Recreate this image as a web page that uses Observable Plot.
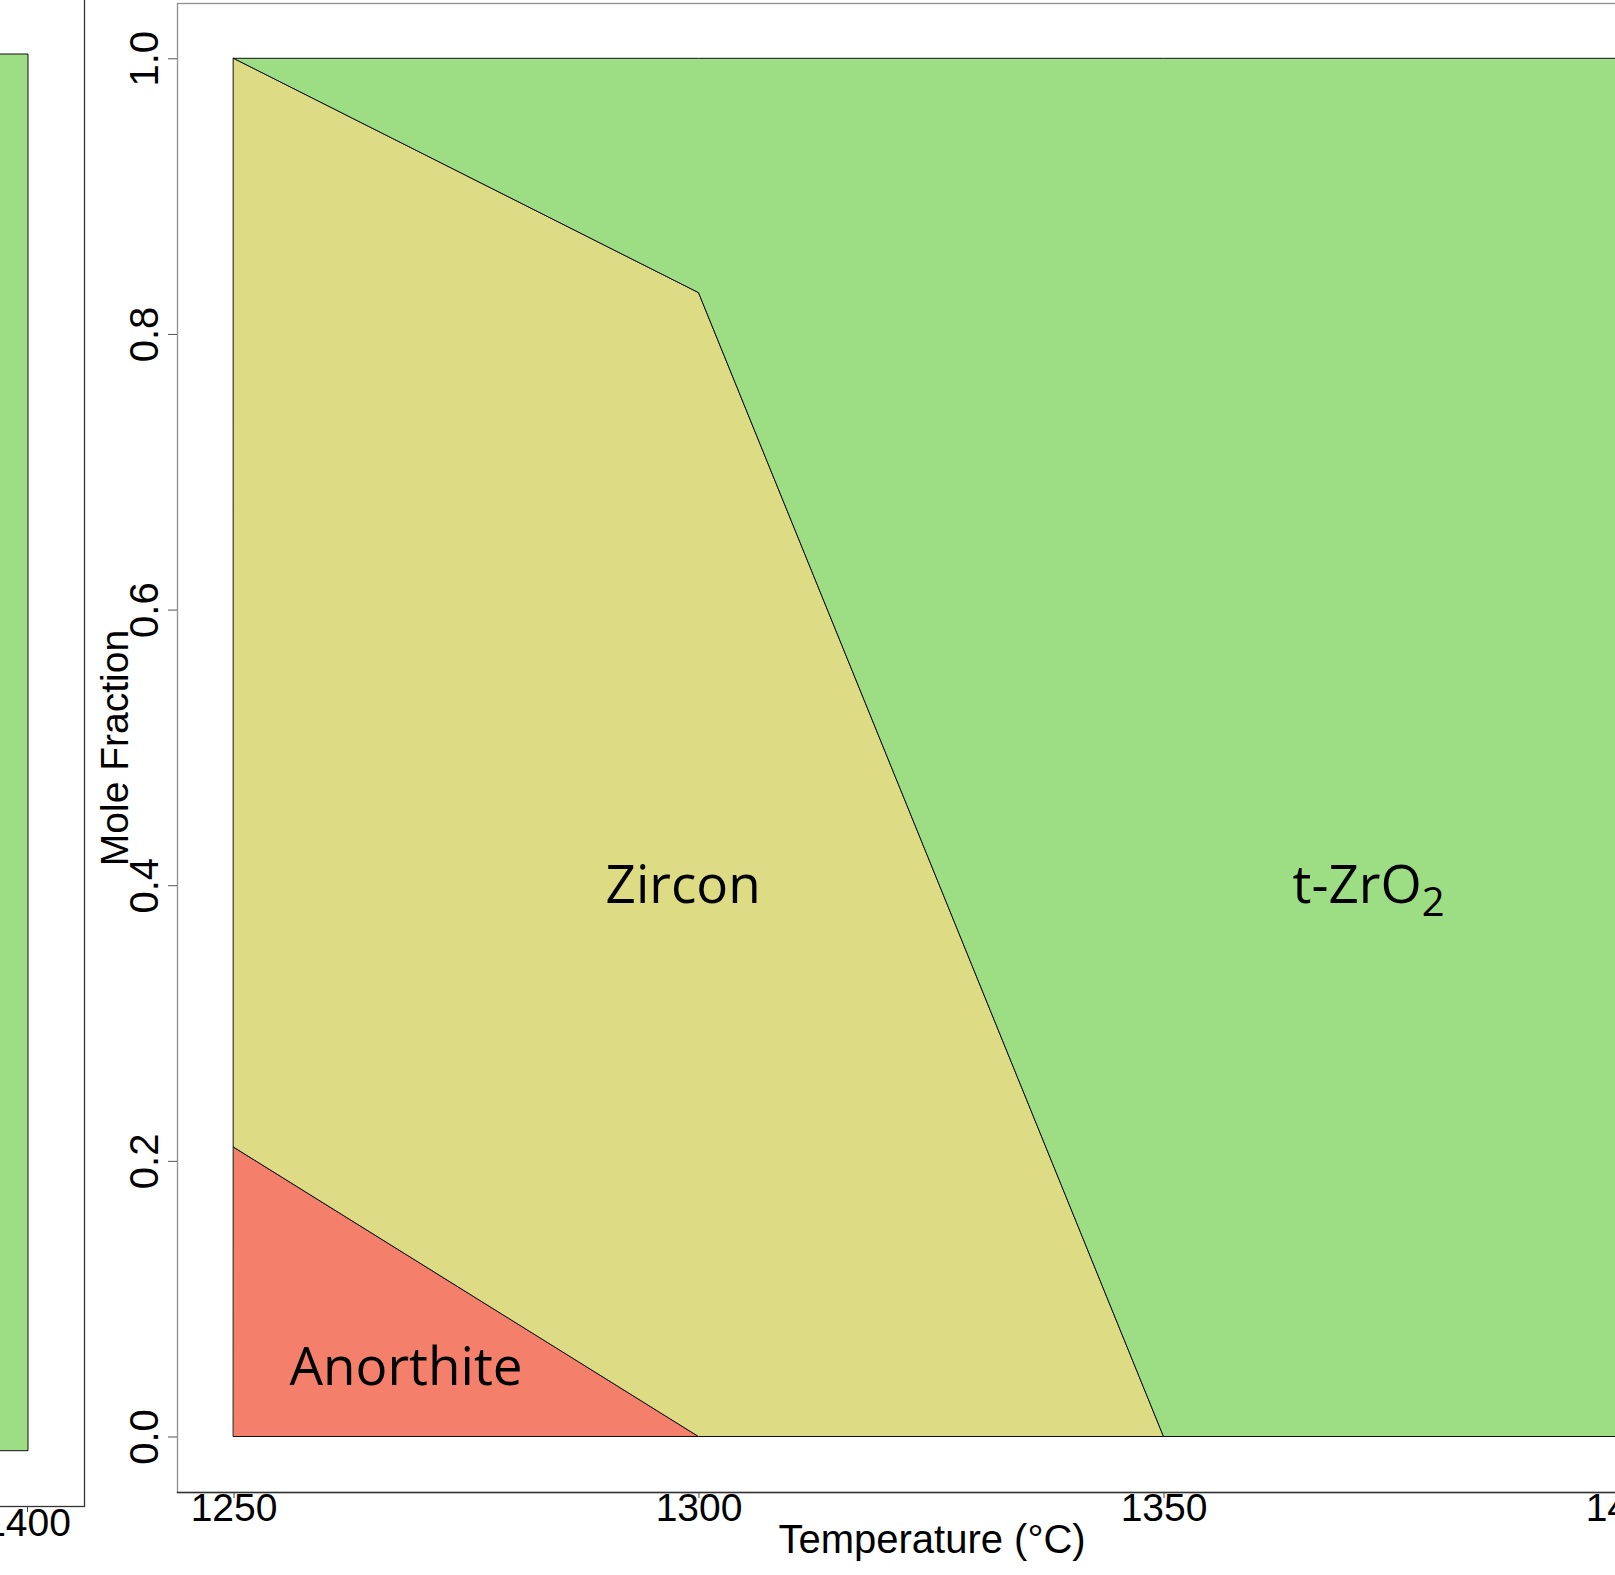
<!DOCTYPE html>
<html><head><meta charset="utf-8">
<script src="https://cdn.jsdelivr.net/npm/d3@7"></script>
<script src="https://cdn.jsdelivr.net/npm/@observablehq/plot@0.6"></script>
<style>
html,body{margin:0;padding:0;background:#fff;overflow:hidden;}
#wrap{position:relative;width:1615px;height:1575px;}
#wrap svg{position:absolute;left:0;top:0;}
</style></head><body><div id="wrap"></div>
<script>
// ---- data ----
const temperatures = [1250, 1300, 1350, 1400];
const phases = ["Anorthite", "Zircon", "t-ZrO2"];
const anorthite = [0.21, 0, 0, 0];
const zircon = [0.79, 0.83, 0, 0];
const tZrO2 = [0, 0.17, 1, 1];
const phaseColors = ["#F47F6A", "#DDDC85", "#9DDE85"];
const xTicks = [1250, 1300, 1350, 1400];
const yTicks = [0, 0.2, 0.4, 0.6, 0.8, 1.0];
const labelText = ["Anorthite", "Zircon", "t-ZrO2"];
const labelX = [1268.5, 1298.3, 1372];
const labelY = [0.05, 0.4, 0.4];
const xTitle = "Temperature (°C)";
const yTitle = "Mole Fraction";
// neighbouring panel, cropped at the left edge
const leftTemperatures = [1350, 1400];
const leftTZrO2 = [1, 1];
const leftTicks = [1400];

const series = [anorthite, zircon, tZrO2];
const rows = phases.flatMap((p, i) => temperatures.map((t, j) => ({phase: p, T: t, value: series[i][j]})));
const leftRows = leftTemperatures.map((t, j) => ({T: t, value: leftTZrO2[j]}));

const axisFont = "'Liberation Sans', Arial, sans-serif";

const main = Plot.plot({
  width: 1615, height: 1575,
  marginTop: 3, marginLeft: 177, marginRight: -71, marginBottom: 83,
  style: `font-family: ${axisFont}; background: white; overflow: hidden;`,
  x: {domain: [1250, 1400], range: [233.5, 1628.5]},
  y: {domain: [0, 1], range: [1436.5, 58.3]},
  color: {domain: phases, range: phaseColors},
  marks: [
    Plot.areaY(rows, {x: "T", y: "value", z: "phase", fill: "phase", stroke: "#111", strokeWidth: 1, order: phases}),
    Plot.frame({stroke: "#8f8f8f", strokeWidth: 1.3}),
    Plot.frame({anchor: "bottom", stroke: "#333", strokeWidth: 1.3}),
    Plot.axisX({ticks: xTicks, tickSize: 6, tickPadding: -5, fontSize: 39, label: null, tickFormat: d => String(d), stroke: "#444", fill: "black"}),
    Plot.axisY({ticks: yTicks, tickSize: 9, tickFormat: () => "", label: null, stroke: "#555"}),
    Plot.text(yTicks, {y: d => d, frameAnchor: "left", dx: -20, rotate: -90, lineAnchor: "bottom", textAnchor: "middle", text: d => d.toFixed(1), fontSize: 40}),
    Plot.text([xTitle], {frameAnchor: "bottom", dy: 60, lineAnchor: "bottom", textAnchor: "middle", fontSize: 40, text: d => d}),
    Plot.text([yTitle], {frameAnchor: "left", dx: -50, rotate: -90, lineAnchor: "bottom", textAnchor: "middle", fontSize: 39, text: d => d}),
    Plot.text(labelText, {x: (d, i) => labelX[i], y: (d, i) => labelY[i], text: d => d, fontSize: 53, fontFamily: "'Open Sans', 'Noto Sans', sans-serif", lineAnchor: "middle", textAnchor: "middle"})
  ]
});

// subscript for t-ZrO2
main.querySelectorAll("text").forEach(t => {
  if (t.textContent === "t-ZrO2") {
    t.textContent = "t-ZrO";
    const s = document.createElementNS("http://www.w3.org/2000/svg", "tspan");
    s.setAttribute("font-size", "40");
    s.setAttribute("dy", "13");
    s.textContent = "2";
    t.appendChild(s);
  }
});

const left = Plot.plot({
  width: 100, height: 1575,
  marginTop: -10, marginLeft: -10, marginRight: 16, marginBottom: 69,
  style: `font-family: ${axisFont}; background: transparent; overflow: hidden;`,
  x: {domain: [1250, 1400], range: [28 - 1395, 28]},
  y: {domain: [0, 1], range: [1450.7, 54], axis: null},
  marks: [
    Plot.areaY(leftRows, {x: "T", y: "value", fill: phaseColors[2], stroke: "#111", strokeWidth: 1}),
    Plot.frame({stroke: "#333", strokeWidth: 1.3}),
    Plot.axisX({ticks: leftTicks, tickSize: 6, tickPadding: -4, fontSize: 39, label: null, tickFormat: d => String(d), stroke: "#444", fill: "black", dx: -1})
  ]
});

const wrap = document.getElementById("wrap");
wrap.appendChild(main);
wrap.appendChild(left);
</script>
</body></html>
